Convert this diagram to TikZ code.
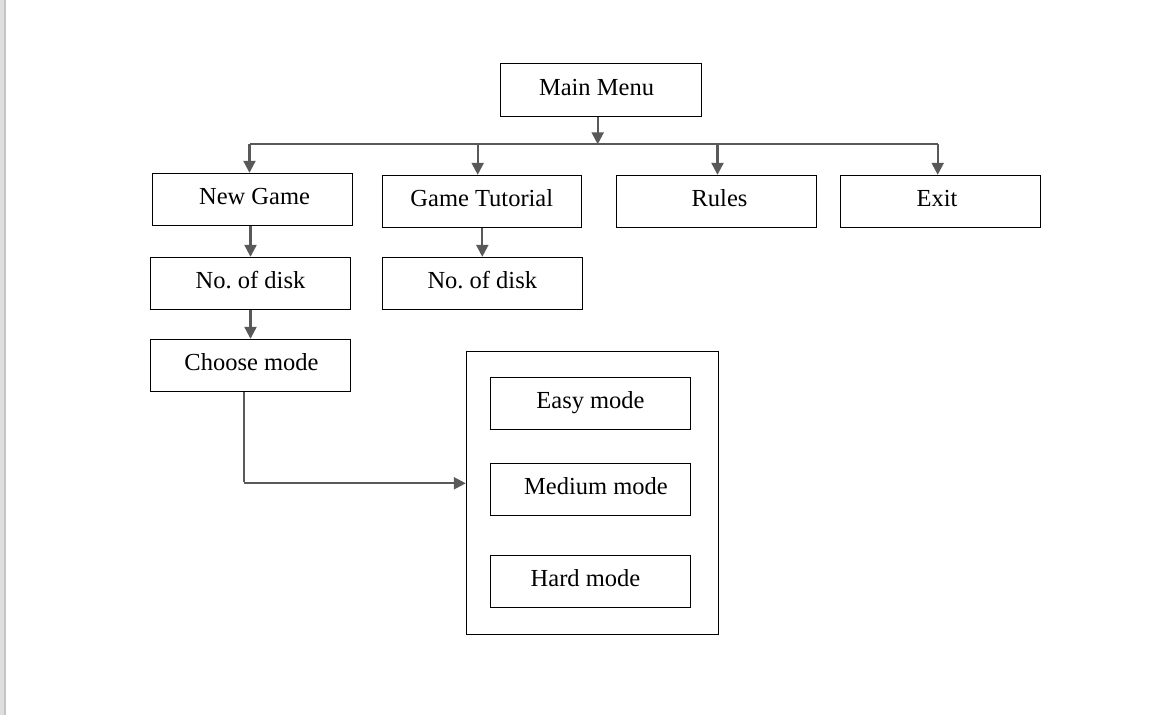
\documentclass[tikz,border=0pt]{standalone}
\usepackage{fontspec}
\setmainfont{Liberation Serif}
\usetikzlibrary{arrows.meta}
\definecolor{linegray}{HTML}{595959}
\definecolor{edgelight}{HTML}{DEDEDE}
\definecolor{edgemid}{HTML}{C4C4C4}
\frenchspacing
\begin{document}
\begin{tikzpicture}[x=1pt,y=-1pt,
  box/.style={draw=black, line width=1pt, minimum width=200pt, minimum height=52pt,
    inner sep=0pt, font=\fontsize{24.5pt}{28pt}\selectfont,
    text height=11pt, text depth=0pt, anchor=center},
  conn/.style={draw=linegray, line width=2.2pt},
  arr/.style={conn, -{Triangle[length=12pt,width=12pt]}}]
% canvas
\fill[white] (0,0) rectangle (1158,715);
\useasboundingbox (0,0) rectangle (1158,715);
\fill[edgelight] (0,0) rectangle (4,715);
\fill[edgemid] (4,0) rectangle (5.7,715);

% nodes
\node[box, minimum width=201pt, minimum height=53pt] (main) at (600.5,89.5) {Main Menu\hspace*{8pt}};
\node[box] (newgame) at (252.5,199.3) {\hspace*{4pt}New Game};
\node[box, minimum width=199pt] (tutorial) at (481.8,201.3) {Game Tutorial};
\node[box, minimum width=199.6pt] (rules) at (716.5,201.3) {\hspace*{6pt}Rules};
\node[box] (exit) at (940.5,201.3) {Exit\hspace*{7pt}};
\node[box] (disk1) at (250.5,283.3) {No. of disk};
\node[box] (disk2) at (482.3,283.3) {No. of disk};
\node[box] (choose) at (250.5,365.3) {\hspace*{2pt}Choose mode};
\node[draw=black, line width=1pt, minimum width=252.4pt, minimum height=282.6pt, inner sep=0pt] (modes) at (592.5,493) {};
\node[box] (easy) at (590.5,403.3) {Easy mode};
\node[box] (medium) at (590.5,489.3) {\hspace*{11pt}Medium mode};
\node[box] (hard) at (590.5,581.3) {Hard mode\hspace*{10pt}};

% bus coordinates
\coordinate (busL) at (249.5,144.3);
\coordinate (busR) at (937.7,144.3);
\coordinate (tapT) at (477.7,144.3);
\coordinate (tapR) at (717.5,144.3);
\coordinate (bend) at (244.3,483.3);

% connectors
\draw[arr] (main.south -| 597.7,0) -- (busL -| 597.7,0);
\draw[conn] (busL) -- (busR);
\draw[arr] (busL) -- (busL |- newgame.north);
\draw[arr] (tapT) -- (tapT |- tutorial.north);
\draw[arr] (tapR) -- (tapR |- rules.north);
\draw[arr] (busR) -- (busR |- exit.north);
\draw[arr] (newgame.south -| disk1.north) -- (disk1.north);
\draw[arr] (tutorial.south -| disk2.north) -- (disk2.north);
\draw[arr] (disk1.south) -- (choose.north);
\draw[conn] (choose.south -| bend) -- ([yshift=1pt]bend);
\draw[arr] (bend) -- (modes.west |- bend);
\end{tikzpicture}
\end{document}
